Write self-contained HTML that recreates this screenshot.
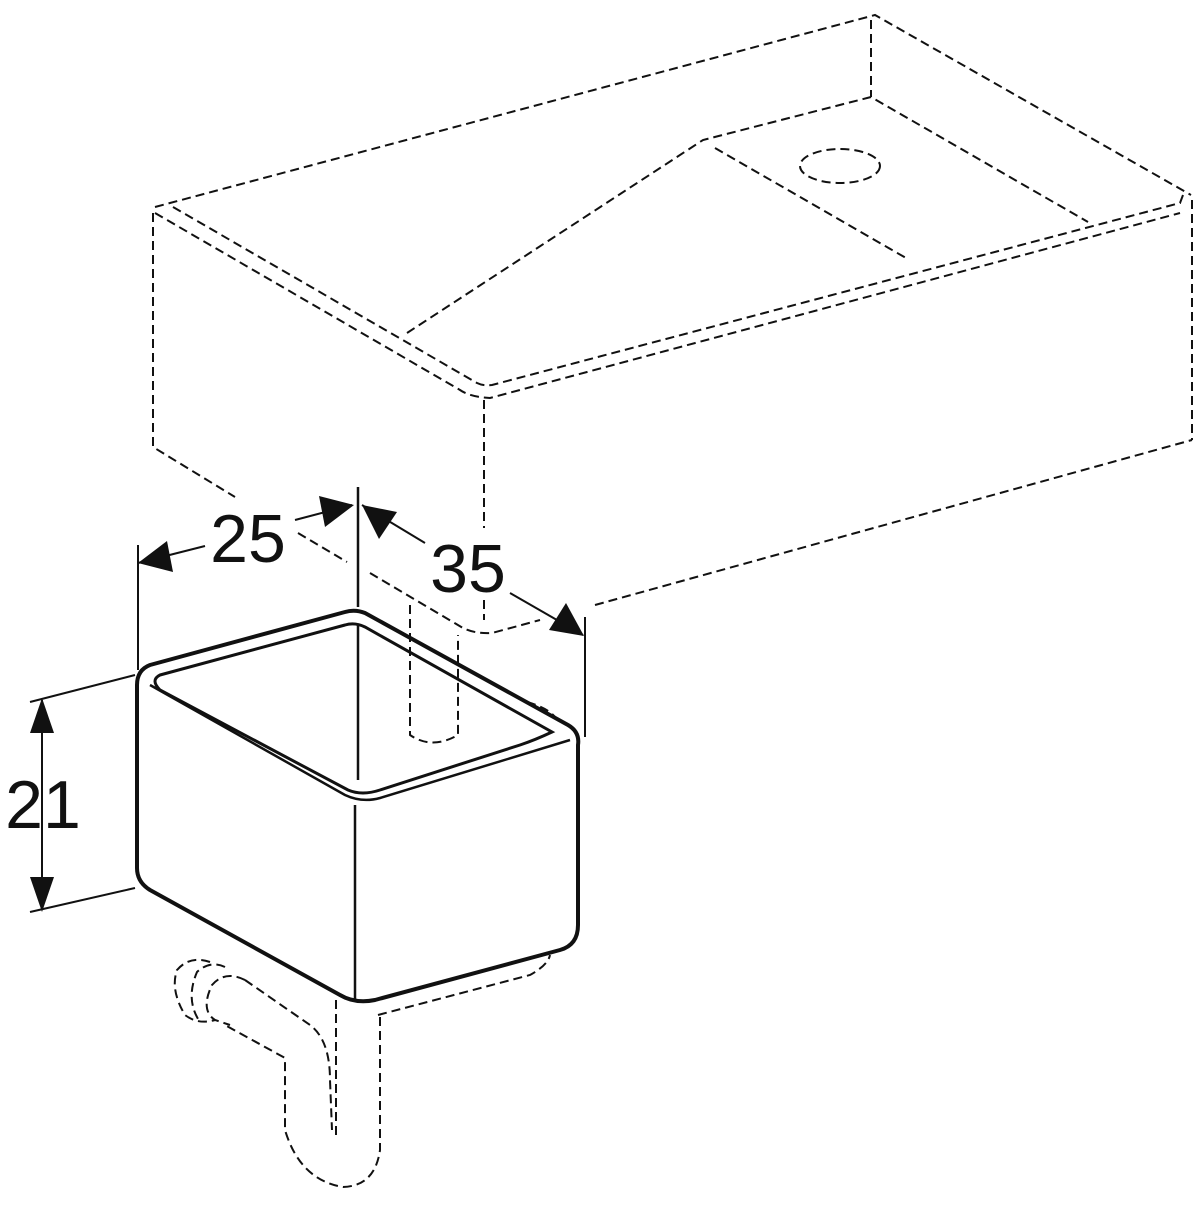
<!DOCTYPE html>
<html><head><style>body{margin:0;background:#fff}</style></head><body>
<svg width="1200" height="1200" viewBox="0 0 1200 1200" xmlns="http://www.w3.org/2000/svg">
<rect width="1200" height="1200" fill="#fff"/>
<g fill="none" stroke="#111" stroke-width="2" stroke-dasharray="9,5">
<!-- sink top outer -->
<path d="M155,207 L875,15 L1191,195"/>
<path d="M173,207 L477,383 Q483,386 492,385 L1180,203 L1183,195"/>
<path d="M155,213 L460,390 Q470,397 490,398 L1180,213"/>
<path d="M871,20 L871,97"/>
<path d="M1192,200 L1192,440"/>
<path d="M153,213 L153,447 L235,497"/>
<path d="M484,400 L484,528"/>
<path d="M484,600 L484,620"/>
<path d="M298,533 L347,562"/>
<path d="M370,573 L463,628 Q475,634 492,633 L540,620"/>
<path d="M595,605 L1192,440"/>
<!-- basin -->
<path d="M407,333 L703,140 L871,97 L1088,222"/>
<path d="M715,148 L906,258"/>
<ellipse cx="840" cy="166" rx="40" ry="17"/>
<!-- drain under box -->
<path d="M410,605 L410,735 Q432,750 458,735 L458,635"/>
<path d="M527,702 Q555,710 560,725"/>
<!-- pipe -->
<path d="M378,1015 L530,975 Q548,965 550,955"/>
<path d="M336,1000 L336,1135"/>
<path d="M380,1017 L380,1150 Q375,1186 343,1187 Q300,1180 285,1130 L285,1058 L225,1025"/>
<path d="M245,980 L310,1025 Q330,1040 330,1080 L332,1130"/>
<path d="M245,980 Q225,970 212,985 Q200,1010 215,1020 L230,1025"/>
<path d="M225,967 Q210,960 197,972 Q185,1000 200,1022"/>
<path d="M210,962 Q190,955 177,970 Q170,990 185,1015 Q198,1025 215,1020"/>
</g>
<!-- box solid -->
<g fill="none" stroke="#111" stroke-width="4" stroke-linejoin="round">
<path d="M150,665 L345,612 Q355,609 365,613 L568,725 Q580,732 578,745 L578,925 Q578,945 560,950 L375,1000 Q355,1004 340,995 L150,890 Q137,882 137,868 L137,685 Q137,670 150,665 Z"/>
</g>
<g fill="none" stroke="#111" stroke-width="3">
<path d="M160,675 L345,625 Q355,622 365,627 L552,732 Q535,740 520,745 L380,790 Q362,796 348,790 L160,690 Q150,680 160,675 Z"/>
</g>
<g fill="none" stroke="#111" stroke-width="2.5">
<path d="M150,685 L345,795 Q362,803 380,798 L570,740"/>
<path d="M355,805 L355,1000"/>
<path d="M358,607 L358,487"/>
<path d="M358,625 L358,780"/>
</g>
<!-- dimensions -->
<g stroke="#111" stroke-width="2" fill="none">
<path d="M138,670 L138,545"/>
<path d="M585,617 L585,737"/>
<path d="M138,563 L205,546"/>
<path d="M295,520 L352,505"/>
<path d="M362,505 L425,543"/>
<path d="M510,593 L583,635"/>
<path d="M42,700 L42,910"/>
<path d="M30,702 L135,675"/>
<path d="M30,912 L135,888"/>
</g>
<g fill="#111">
<polygon points="138,563 167,541 173,572"/>
<polygon points="354,505 325,527 319,496"/>
<polygon points="362,505 397,512 379,539"/>
<polygon points="584,636 549,630 566,603"/>
<polygon points="42,698 30,733 54,733"/>
<polygon points="42,912 30,877 54,877"/>
</g>
<g font-family="Liberation Sans, sans-serif" font-size="68" fill="#111" text-anchor="middle">
<text x="248" y="562">25</text>
<text x="468" y="592">35</text>
<text x="43" y="828">21</text>
</g>
</svg>
</body></html>
